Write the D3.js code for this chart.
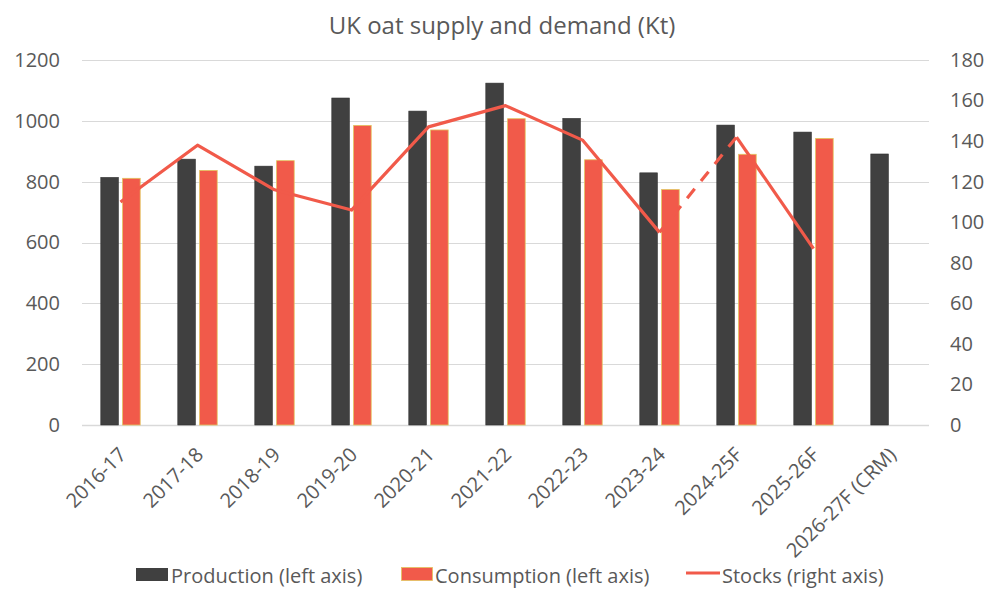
<!DOCTYPE html>
<html>
<head>
<meta charset="utf-8">
<script src="https://cdn.jsdelivr.net/npm/d3@7/dist/d3.min.js"></script>
<style>
  html, body { margin: 0; padding: 0; background: #fff; }
  svg { display: block; font-family: "Open Sans", "Noto Sans", sans-serif; }
</style>
</head>
<body>
<svg id="chart" width="999" height="599"></svg>
<script>
const categories = ["2016-17","2017-18","2018-19","2019-20","2020-21","2021-22","2022-23","2023-24","2024-25F","2025-26F","2026-27F (CRM)"];
const production = [814, 874, 851, 1075, 1032, 1124, 1008, 829, 986, 963, 891];
const consumption = [811, 837, 869, 985, 970, 1007, 872, 774, 890, 942, null];
const stocks = [110, 138, 116, 106, 147, 157.5, 140.5, 95, 142, 87, null];
// segment i joins point i and i+1; true = dashed
const stocksSegmentDashed = [false, false, false, false, false, false, false, true, false];
const leftTicks = [0, 200, 400, 600, 800, 1000, 1200];
const rightTicks = [0, 20, 40, 60, 80, 100, 120, 140, 160, 180];
const seriesNames = ["Production (left axis)", "Consumption (left axis)", "Stocks (right axis)"];
const titleText = "UK oat supply and demand (Kt)";

const textColor = "#595959";
const prodColor = "#404040";
const consColor = "#F15A4A";
const consStroke = "#E3C35E";
const lineColor = "#F15A4A";
const gridColor = "#D9D9D9";

const svg = d3.select("#chart");
const plot = { left: 82, right: 929, top: 60, bottom: 425 };

const x = d3.scaleBand().domain(categories).range([plot.left, plot.right]).padding(0);
const xs = d3.scaleBand().domain(["prod", "cons"]).range([0, x.bandwidth()])
  .paddingInner(0.193).paddingOuter(0.862);
const yL = d3.scaleLinear().domain([0, 1200]).range([plot.bottom, plot.top]);
const yR = d3.scaleLinear().domain([0, 180]).range([plot.bottom, plot.top]);

// title
svg.append("text").attr("x", 502).attr("y", 34).attr("text-anchor", "middle")
  .attr("fill", textColor).attr("font-size", 24).text(titleText);

// gridlines
svg.append("g").selectAll("line").data(leftTicks).join("line")
  .attr("x1", plot.left).attr("x2", plot.right)
  .attr("y1", d => Math.round(yL(d)) + 0.5).attr("y2", d => Math.round(yL(d)) + 0.5)
  .attr("stroke", gridColor).attr("stroke-width", d => d === 0 ? 1.5 : 1);

// left axis
const axL = d3.axisLeft(yL).tickValues(leftTicks).tickFormat(d3.format("d")).tickSize(0).tickPadding(0);
const gL = svg.append("g").attr("transform", `translate(${plot.left - 22},0)`).call(axL);
gL.select(".domain").remove();
gL.selectAll("text").attr("fill", textColor).attr("font-size", 20).attr("font-family", "Open Sans");

// right axis
const axR = d3.axisRight(yR).tickValues(rightTicks).tickFormat(d3.format("d")).tickSize(0).tickPadding(0);
const gR = svg.append("g").attr("transform", `translate(${plot.right + 21},0)`).call(axR);
gR.select(".domain").remove();
gR.selectAll("text").attr("fill", textColor).attr("font-size", 20).attr("font-family", "Open Sans");

// bars
const bars = svg.append("g");
bars.selectAll("rect.prod").data(categories.map((c, i) => ({ c, v: production[i] })).filter(d => d.v != null))
  .join("rect").attr("class", "prod")
  .attr("x", d => x(d.c) + xs("prod")).attr("width", xs.bandwidth())
  .attr("y", d => yL(d.v)).attr("height", d => yL(0) - yL(d.v))
  .attr("fill", prodColor).attr("stroke", "#303030").attr("stroke-width", 0.6);
bars.selectAll("rect.cons").data(categories.map((c, i) => ({ c, v: consumption[i] })).filter(d => d.v != null))
  .join("rect").attr("class", "cons")
  .attr("x", d => x(d.c) + xs("cons")).attr("width", xs.bandwidth())
  .attr("y", d => yL(d.v)).attr("height", d => yL(0) - yL(d.v))
  .attr("fill", consColor).attr("stroke", consStroke).attr("stroke-width", 0.8);

// stocks line, split into runs of same style
const pts = categories.map((c, i) => ({ c, v: stocks[i] }));
const runs = [];
stocksSegmentDashed.forEach((dash, i) => {
  if (pts[i].v == null || pts[i + 1].v == null) return;
  const last = runs[runs.length - 1];
  if (last && last.dash === dash && last.end === i) { last.pts.push(pts[i + 1]); last.end = i + 1; }
  else runs.push({ dash, pts: [pts[i], pts[i + 1]], end: i + 1 });
});
const line = d3.line().x(d => x(d.c) + x.bandwidth() / 2).y(d => yR(d.v));
svg.append("g").selectAll("path").data(runs).join("path")
  .attr("d", d => line(d.pts))
  .attr("fill", "none").attr("stroke", lineColor).attr("stroke-width", 3.2)
  .attr("stroke-linejoin", "round")
  .attr("stroke-dasharray", d => d.dash ? "12,10" : null);

// x labels
svg.append("g").selectAll("text").data(categories).join("text")
  .attr("transform", d => `translate(${x(d) + x.bandwidth() / 2 + 7},${456}) rotate(-45)`)
  .attr("text-anchor", "end").attr("fill", textColor).attr("font-size", 20)
  .text(d => d);

// legend
const lg = svg.append("g");
lg.append("rect").attr("x", 136).attr("y", 568).attr("width", 32).attr("height", 13).attr("fill", prodColor);
lg.append("text").attr("x", 171).attr("y", 583).attr("fill", textColor).attr("font-size", 20).text(seriesNames[0]);
lg.append("rect").attr("x", 401.5).attr("y", 567.5).attr("width", 31).attr("height", 13)
  .attr("fill", consColor).attr("stroke", consStroke).attr("stroke-width", 0.8);
lg.append("text").attr("x", 435).attr("y", 583).attr("fill", textColor).attr("font-size", 20).text(seriesNames[1]);
lg.append("line").attr("x1", 686).attr("x2", 720).attr("y1", 573).attr("y2", 573)
  .attr("stroke", lineColor).attr("stroke-width", 3.2);
lg.append("text").attr("x", 722).attr("y", 583).attr("fill", textColor).attr("font-size", 20).text(seriesNames[2]);
</script>
</body>
</html>
